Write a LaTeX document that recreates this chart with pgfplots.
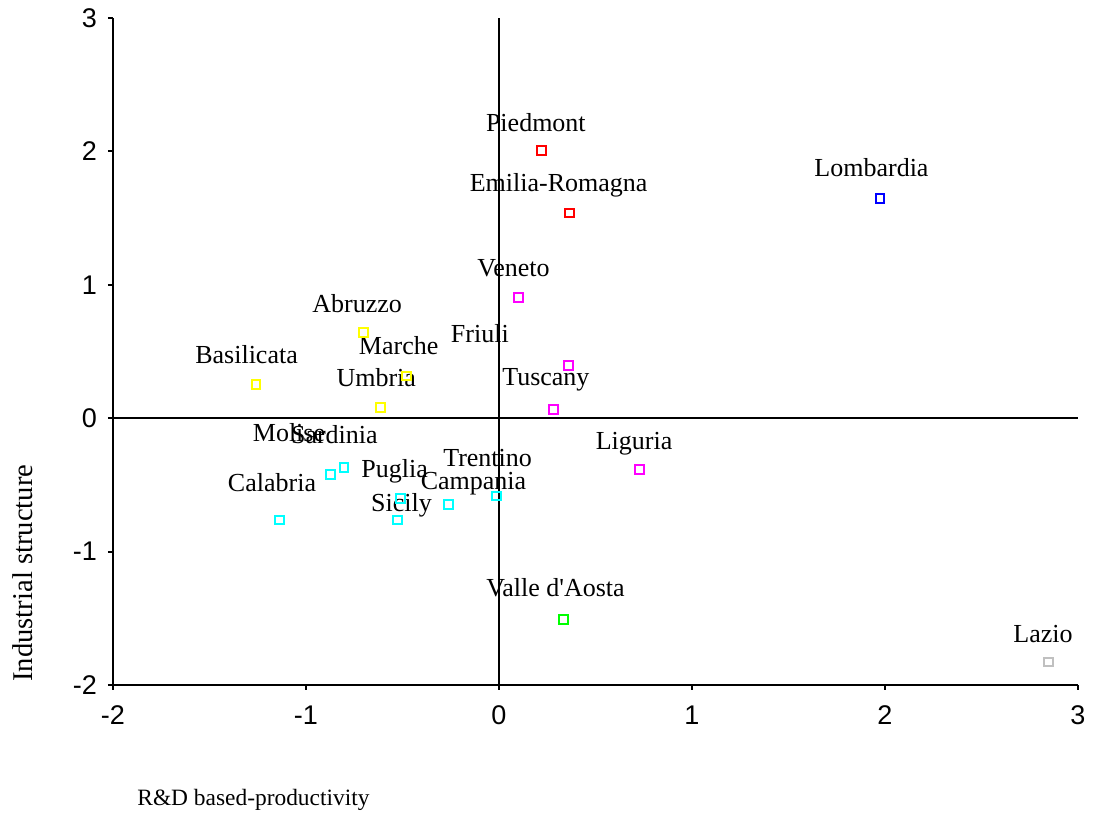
\documentclass[border=0pt]{standalone}
\usepackage{fontspec}
\setmainfont{Liberation Serif}
\setsansfont{Liberation Sans}
\usepackage{pgfplots}
\pgfplotsset{compat=1.18}

\definecolor{cRed}{RGB}{255,0,0}
\definecolor{cBlue}{RGB}{0,0,255}
\definecolor{cMag}{RGB}{255,0,255}
\definecolor{cYel}{RGB}{255,255,0}
\definecolor{cCyan}{RGB}{0,255,255}
\definecolor{cGreen}{RGB}{0,255,0}
\definecolor{cGray}{RGB}{192,192,192}

\newcommand{\lbl}[3]{\node[anchor=base,inner sep=0pt,font=\fontsize{13}{14}\selectfont] at (axis cs:#1,#2) {#3};}

\begin{document}
\begin{tikzpicture}
\useasboundingbox (-56.5pt,-66pt) rectangle (493pt,342.5pt);
\begin{axis}[
    scale only axis, width=482.5pt, height=333.5pt, % axis box
    xmin=-2, xmax=3, ymin=-2, ymax=3,
    axis x line*=bottom, axis y line*=left,
    xtick={-2,-1,0,1,2,3}, ytick={-2,-1,0,1,2,3},
    tick align=outside, major tick length=2.5pt,
    axis line style={line width=1pt},
    tick style={line width=1pt, black},
    /pgf/number format/assume math mode=true,
    ticklabel style={font=\sffamily\fontsize{13.5}{15}\selectfont},
    xticklabel style={yshift=-4.5pt},
    yticklabel style={xshift=-2pt},
    clip=false,
    xlabel={R\&D based-productivity},
    ylabel={Industrial structure},
    every axis x label/.style={at={(rel axis cs:0.0249,-0.180)}, anchor=base west, inner sep=0pt, font=\fontsize{11.7}{13}\selectfont},
    every axis y label/.style={at={(rel axis cs:-0.0829,0.0045)}, rotate=90, anchor=base west, inner sep=0pt, font=\fontsize{14.3}{16}\selectfont},
    every axis plot/.append style={only marks, mark=square, mark size=2.2pt, line width=1pt},
]

% crosshair at the origin
\draw[line width=1pt] (axis cs:0,-2) -- (axis cs:0,3);
\draw[line width=1pt] (axis cs:-2,0) -- (axis cs:3,0);

% red
\addplot[color=cRed] coordinates {(0.219,2.005) (0.367,1.538)};
% blue
\addplot[color=cBlue] coordinates {(1.974,1.647)};
% magenta
\addplot[color=cMag] coordinates {(0.100,0.905) (0.361,0.392) (0.281,0.068) (0.729,-0.386)};
% yellow
\addplot[color=cYel] coordinates {(-0.701,0.642) (-0.479,0.317) (-0.614,0.083) (-1.259,0.255)};
% cyan
\addplot[color=cCyan] coordinates {(-0.872,-0.420) (-0.803,-0.368) (-0.510,-0.605) (-0.526,-0.763) (-0.260,-0.645) (-0.012,-0.583) (-1.137,-0.763)};
% green
\addplot[color=cGreen] coordinates {(0.336,-1.508)};
% gray
\addplot[color=cGray] coordinates {(2.849,-1.828)};

% region names
\lbl{0.191}{2.150}{Piedmont}
\lbl{0.309}{1.700}{Emilia-Romagna}
\lbl{1.930}{1.812}{Lombardia}
\lbl{0.075}{1.062}{Veneto}
\lbl{-0.099}{0.567}{Friuli}
\lbl{0.243}{0.242}{Tuscany}
\lbl{0.700}{-0.236}{Liguria}
\lbl{-0.735}{0.790}{Abruzzo}
\lbl{-0.520}{0.475}{Marche}
\lbl{-0.636}{0.237}{Umbria}
\lbl{-1.308}{0.413}{Basilicata}
\lbl{-1.088}{-0.176}{Molise}
\lbl{-0.853}{-0.193}{Sardinia}
\lbl{-0.541}{-0.448}{Puglia}
\lbl{-0.059}{-0.363}{Trentino}
\lbl{-0.132}{-0.536}{Campania}
\lbl{-0.505}{-0.701}{Sicily}
\lbl{-1.176}{-0.546}{Calabria}
\lbl{0.293}{-1.338}{Valle d\textquotesingle Aosta}
\lbl{2.819}{-1.680}{Lazio}

\end{axis}
\end{tikzpicture}
\end{document}
